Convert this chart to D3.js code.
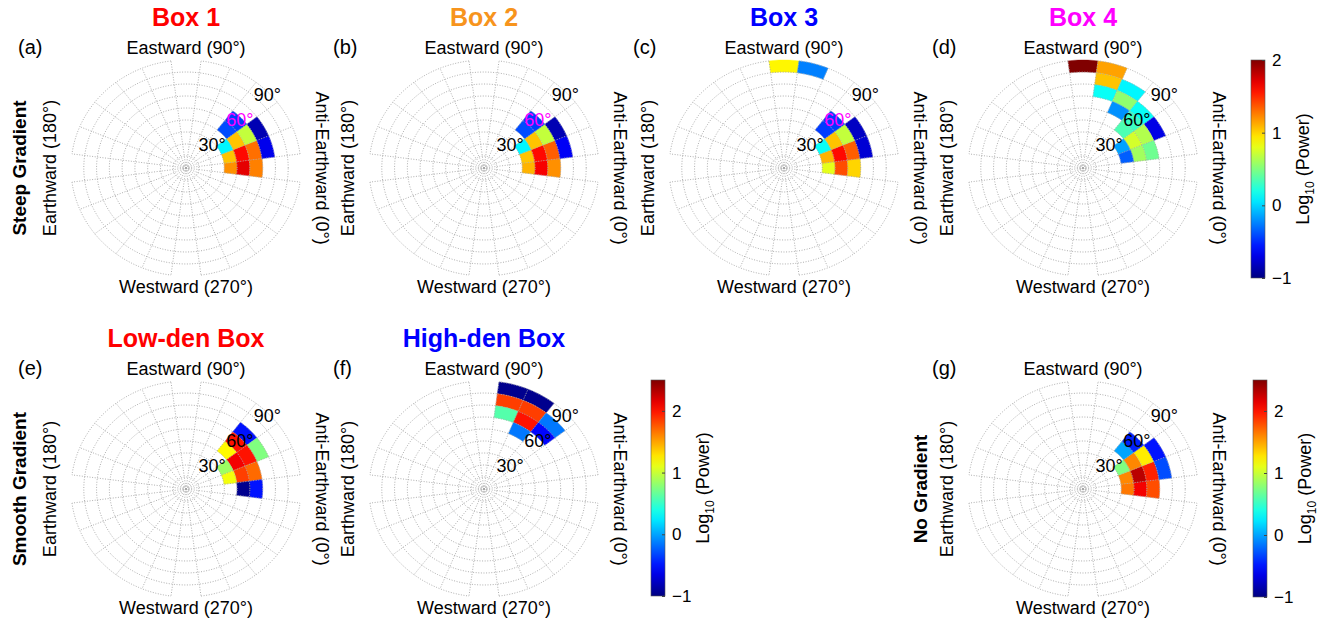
<!DOCTYPE html>
<html>
<head>
<meta charset="utf-8">
<script src="https://cdn.jsdelivr.net/npm/d3@7"></script>
<style>
  body { margin: 0; background: #fff; }
  svg { display: block; }
  text { font-family: "Liberation Sans", Arial, Helvetica, sans-serif; fill: #000; }
</style>
</head>
<body>
<svg id="fig" width="1327" height="624"></svg>
<script>
// Wave-normal power maps: each cell is [azimuth bin centre (deg), polar-angle bin lower edge (deg), log10 power]
const AZ_STEP = 15;
const POLAR_STEP = 10;

const box1Cells = [
  [0, 30, 1.2], [0, 40, 1.7], [0, 50, 1.25],
  [15, 30, 1.05], [15, 40, 1.6], [15, 50, 1.3], [15, 60, -0.68],
  [30, 30, 0.1], [30, 40, 1.05], [30, 50, 0.7], [30, 60, -0.85],
  [45, 40, -0.4], [45, 50, -0.45]
];
const box2Cells = [
  [0, 30, 1.1], [0, 40, 1.65], [0, 50, 1.2],
  [15, 30, 1.05], [15, 40, 1.6], [15, 50, 1.35], [15, 60, -0.65],
  [30, 30, 0.1], [30, 40, 1.05], [30, 50, 0.7], [30, 60, -0.85],
  [45, 40, -0.4], [45, 50, -0.45]
];
const box3Cells = [
  [0, 30, 0.8], [0, 40, 1.4], [0, 50, 1.0],
  [15, 30, 1.1], [15, 40, 1.6], [15, 50, 1.35], [15, 60, -0.75],
  [30, 30, 0.15], [30, 40, 1.05], [30, 50, 0.7], [30, 60, -0.8],
  [45, 40, -0.45], [45, 50, -0.45],
  [90, 80, 0.9], [75, 80, -0.25]
];
const box4Cells = [
  [90, 80, 2.0], [75, 80, 1.15], [75, 70, 1.05], [75, 60, 0.15],
  [60, 70, 0.1], [60, 60, 0.55], [60, 50, -0.2],
  [45, 60, 0.15], [45, 50, 0.3], [45, 40, 0.35],
  [30, 60, -0.7], [30, 50, 0.65], [30, 40, 0.75], [30, 30, -0.15],
  [15, 50, 0.45], [15, 40, 0.6], [15, 30, -0.35]
];
const lowDenCells = [
  [45, 60, -0.5], [45, 50, 2.0], [45, 40, 1.2],
  [30, 60, 0.75], [30, 50, 2.0], [30, 40, 2.1], [30, 30, 0.85],
  [15, 50, 1.7], [15, 40, 1.85], [15, 30, 1.15],
  [0, 50, -0.5], [0, 40, -0.95]
];
const highDenCells = [
  [75, 80, -0.95], [60, 80, -0.95],
  [75, 70, 1.85], [60, 70, 1.85],
  [75, 60, 0.6], [60, 60, 2.0],
  [45, 70, -0.15], [45, 60, -0.55], [60, 50, -0.15]
];
const noGradCells = [
  [0, 30, 1.65], [0, 40, 2.1], [0, 50, 1.8],
  [15, 30, 1.6], [15, 40, 2.3], [15, 50, 1.95], [15, 60, -0.3],
  [30, 30, 0.75], [30, 40, 1.6], [30, 50, 1.25], [30, 60, -0.5],
  [45, 40, 0.0], [45, 50, -0.45]
];

// Colour bar ticks and ranges
const cbTicksTop = [-1, 0, 1, 2];
const cbTicksBottom = [-1, 0, 1, 2];
const cbDomainTop = [-1, 2];
const cbDomainBottom = [-1, 2.5];

// Polar-angle ring labels
const ringLabels = [30, 60, 90];

// MATLAB-style jet colormap
function jet(t) {
  t = Math.max(0, Math.min(1, t));
  const c = v => Math.round(255 * Math.max(0, Math.min(1, v)));
  const r = c(1.5 - Math.abs(4 * t - 3));
  const g = c(1.5 - Math.abs(4 * t - 2));
  const b = c(1.5 - Math.abs(4 * t - 1));
  return `rgb(${r},${g},${b})`;
}

const svg = d3.select("#fig");

// Horizontal and vertical radial scales (the polar axes are slightly stretched)
const rx = d3.scaleLinear().domain([0, 90]).range([0, 115]);
const ry = d3.scaleLinear().domain([0, 90]).range([0, 108]);
const line = d3.line();

function pt(theta, phi) {
  const p = phi * Math.PI / 180;
  return [rx(theta) * Math.cos(p), -ry(theta) * Math.sin(p)];
}
function arcPts(theta, a0, a1, n) {
  const pts = [];
  for (let i = 0; i <= n; i++) pts.push(pt(theta, a0 + (a1 - a0) * i / n));
  return pts;
}

const panels = [
  { tag: "(a)", tagX: -168, cx: 186, cy: 168, cells: box1Cells, domain: cbDomainTop, title: "Box 1", titleColor: "#ff0000", mid: "#ff00ff", rowLabel: "Steep Gradient", rowLabelX: -160 },
  { tag: "(b)", tagX: -151, cx: 484, cy: 168, cells: box2Cells, domain: cbDomainTop, title: "Box 2", titleColor: "#f7941d", mid: "#ff00ff" },
  { tag: "(c)", tagX: -151, cx: 784, cy: 168, cells: box3Cells, domain: cbDomainTop, title: "Box 3", titleColor: "#0000ff", mid: "#ff00ff" },
  { tag: "(d)", tagX: -151, cx: 1083, cy: 168, cells: box4Cells, domain: cbDomainTop, title: "Box 4", titleColor: "#ff00ff", mid: "#000" },
  { tag: "(e)", tagX: -168, cx: 186, cy: 489, cells: lowDenCells, domain: cbDomainBottom, title: "Low-den Box", titleColor: "#ff0000", mid: "#000", rowLabel: "Smooth Gradient", rowLabelX: -160 },
  { tag: "(f)", tagX: -151, cx: 484, cy: 489, cells: highDenCells, domain: cbDomainBottom, title: "High-den Box", titleColor: "#0000ff", mid: "#000" },
  { tag: "(g)", tagX: -151, cx: 1083, cy: 489, cells: noGradCells, domain: cbDomainBottom, mid: "#000", rowLabel: "No Gradient", rowLabelX: -156 }
];

panels.forEach(p => {
  const color = d3.scaleSequential(t => jet(t)).domain(p.domain);
  const g = svg.append("g").attr("transform", `translate(${p.cx},${p.cy})`);

  // cells
  g.selectAll("path.cell").data(p.cells).join("path")
    .attr("class", "cell")
    .attr("d", d => {
      const [az, lo] = d;
      const a0 = az - AZ_STEP / 2, a1 = az + AZ_STEP / 2;
      const outer = arcPts(lo + POLAR_STEP, a0, a1, 12);
      const inner = arcPts(lo, a1, a0, 12);
      return line(outer.concat(inner)) + "Z";
    })
    .attr("fill", d => color(d[2]))
    .attr("stroke", d => color(d[2]))
    .attr("stroke-width", 0.4);

  // dotted polar grid
  const grid = g.append("g").attr("fill", "none").attr("stroke", "#a6a6a6")
    .attr("stroke-width", 0.9).attr("stroke-dasharray", "1,1.6");
  d3.range(10, 90, 10).forEach(th => {
    grid.append("path").attr("d", line(arcPts(th, 0, 360, 120)) + "Z");
  });
  // outer ring, open across the four cardinal bins
  [0, 90, 180, 270].forEach(c => {
    grid.append("path").attr("d", line(arcPts(90, c + 7.5, c + 82.5, 40)));
  });
  d3.range(7.5, 360, AZ_STEP).forEach(a => {
    grid.append("path").attr("d", line([pt(0, a), pt(90, a)]));
  });
  grid.append("circle").attr("r", 2.2);

  // ring labels
  ringLabels.forEach(th => {
    const [x, y] = pt(th - 1.5, 44);
    g.append("text").attr("x", x).attr("y", y).attr("dy", "0.36em")
      .attr("text-anchor", "middle").attr("font-size", 18)
      .style("fill", th === 60 ? p.mid : "#000")
      .text(th + "°");
  });

  // direction labels
  g.append("text").attr("x", 0).attr("y", -114).attr("text-anchor", "middle")
    .attr("font-size", 18).text("Eastward (90°)");
  g.append("text").attr("x", 0).attr("y", 125).attr("text-anchor", "middle")
    .attr("font-size", 18).text("Westward (270°)");
  g.append("text").attr("transform", "translate(-130,0) rotate(-90)")
    .attr("text-anchor", "middle").attr("font-size", 18).text("Earthward (180°)");
  g.append("text").attr("transform", "translate(130,0) rotate(90)")
    .attr("text-anchor", "middle").attr("font-size", 18).text("Anti-Earthward (0°)");

  // panel tag
  g.append("text").attr("x", p.tagX).attr("y", -114).attr("font-size", 20).text(p.tag);

  if (p.title) {
    g.append("text").attr("x", 0).attr("y", -142).attr("text-anchor", "middle")
      .attr("font-size", 25).attr("font-weight", "bold")
      .style("fill", p.titleColor).text(p.title);
  }
  if (p.rowLabel) {
    g.append("text").attr("transform", `translate(${p.rowLabelX},0) rotate(-90)`)
      .attr("text-anchor", "middle").attr("font-size", 19).attr("font-weight", "bold")
      .text(p.rowLabel);
  }
});

// colour bars
const bars = [
  { x: 1251, y0: 60, y1: 278, domain: cbDomainTop, ticks: cbTicksTop },
  { x: 651, y0: 380, y1: 596, domain: cbDomainBottom, ticks: cbTicksBottom },
  { x: 1253, y0: 380, y1: 597, domain: cbDomainBottom, ticks: cbTicksBottom }
];
const defs = svg.append("defs");
bars.forEach((b, i) => {
  const w = 14;
  const gid = "jetgrad" + i;
  const grad = defs.append("linearGradient").attr("id", gid)
    .attr("x1", 0).attr("y1", 1).attr("x2", 0).attr("y2", 0);
  d3.range(0, 1.0001, 0.05).forEach(t => {
    grad.append("stop").attr("offset", t).attr("stop-color", jet(t));
  });
  const y = d3.scaleLinear().domain(b.domain).range([b.y1, b.y0]);
  const g = svg.append("g");
  g.append("rect").attr("x", b.x).attr("y", b.y0).attr("width", w).attr("height", b.y1 - b.y0)
    .attr("fill", `url(#${gid})`).attr("stroke", "#555").attr("stroke-width", 0.6);
  const axis = d3.axisRight(y).tickValues(b.ticks).tickSize(-3).tickPadding(7).tickFormat(d3.format("d"));
  const ax = g.append("g").attr("transform", `translate(${b.x + w},0)`).call(axis);
  ax.select(".domain").remove();
  ax.selectAll(".tick line").attr("stroke", "#444");
  ax.selectAll("text").attr("font-size", 17).style("font-family", '"Liberation Sans", Arial, sans-serif');
  const lab = g.append("text")
    .attr("transform", `translate(${b.x + 58},${(b.y0 + b.y1) / 2}) rotate(-90)`)
    .attr("text-anchor", "middle").attr("font-size", 18);
  lab.append("tspan").text("Log");
  lab.append("tspan").attr("font-size", 12).attr("dy", 5).text("10");
  lab.append("tspan").attr("dy", -5).text(" (Power)");
});
</script>
</body>
</html>
